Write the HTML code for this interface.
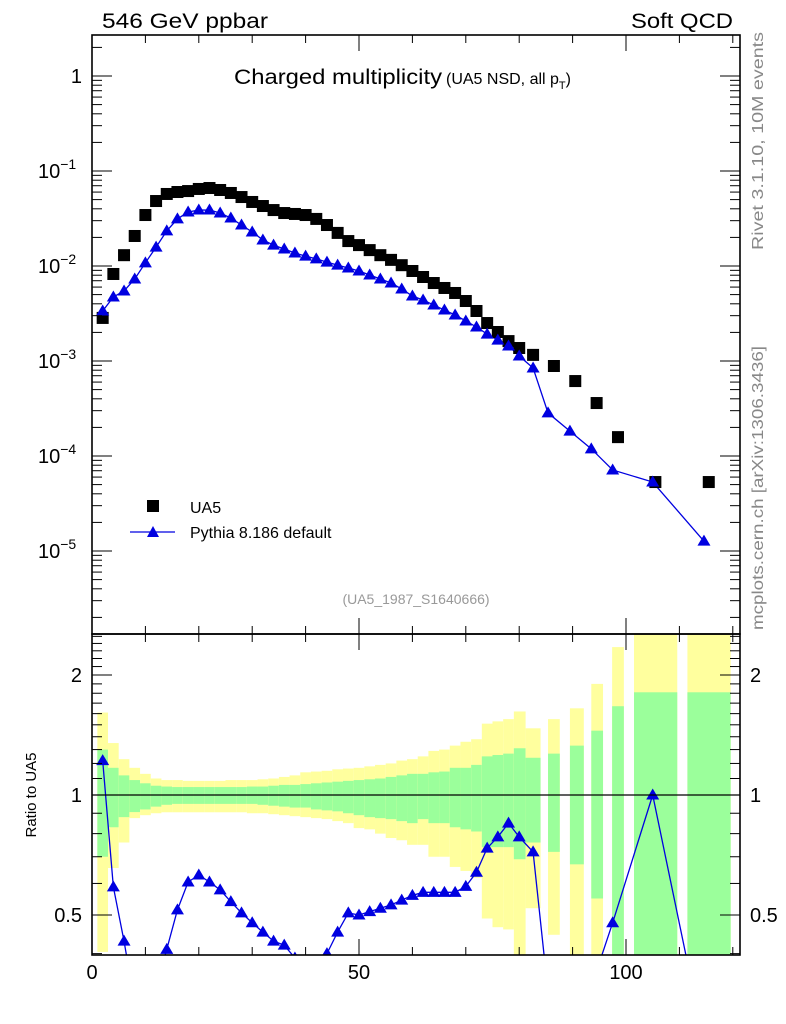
<!DOCTYPE html>
<html><head><meta charset="utf-8"><style>
body{margin:0;background:#fff;}
svg{display:block;font-family:"Liberation Sans",sans-serif;}
</style></head><body>
<svg id="chart" width="786" height="1024" viewBox="0 0 786 1024" xmlns="http://www.w3.org/2000/svg">
<text x="102" y="28" font-size="21" textLength="166" lengthAdjust="spacingAndGlyphs">546 GeV ppbar</text>
<text x="631" y="28" font-size="21" textLength="102" lengthAdjust="spacingAndGlyphs">Soft QCD</text>
<text x="234" y="84" font-size="21" textLength="208" lengthAdjust="spacingAndGlyphs">Charged multiplicity</text>
<text x="446" y="84" font-size="16">(UA5 NSD, all p<tspan font-size="11" dy="5">T</tspan><tspan dy="-5">)</tspan></text>
<text transform="translate(763,250) rotate(-90)" font-size="16" fill="#888" textLength="218" lengthAdjust="spacingAndGlyphs">Rivet 3.1.10,  10M events</text>
<text transform="translate(763,630) rotate(-90)" font-size="16" fill="#888" textLength="284" lengthAdjust="spacingAndGlyphs">mcplots.cern.ch [arXiv:1306.3436]</text>
<text x="416" y="604" font-size="14" fill="#999" text-anchor="middle">(UA5_1987_S1640666)</text>
<text transform="translate(36,795) rotate(-90)" font-size="15" text-anchor="middle">Ratio to UA5</text>
<g id="legend">
<rect x="147" y="500" width="12" height="12" fill="#000"/>
<text x="190" y="513" font-size="16">UA5</text>
<line x1="130" y1="532" x2="175" y2="532" stroke="#0000e0" stroke-width="1.3"/>
<polygon points="153,526 159,537 147,537" fill="#0000e0"/>
<text x="190" y="538" font-size="16">Pythia 8.186 default</text>
</g>
<g id="ratioBands"></g>
<g id="mainMarks"></g>
<g id="ratioMarks"></g>
<g id="axes"></g>
</svg>
<script>
const ua5N=[2,4,6,8,10,12,14,16,18,20,22,24,26,28,30,32,34,36,38,40,42,44,46,48,50,52,54,56,58,60,62,64,66,68,70,72,74,76,78,80,82.6,86.5,90.5,94.5,98.5,105.5,115.5];
const ua5Vals=[2.84e-3,8.24e-3,1.30e-2,2.07e-2,3.44e-2,4.83e-2,5.73e-2,6.01e-2,6.15e-2,6.47e-2,6.62e-2,6.31e-2,5.87e-2,5.32e-2,4.72e-2,4.28e-2,3.88e-2,3.61e-2,3.53e-2,3.44e-2,3.13e-2,2.70e-2,2.23e-2,1.83e-2,1.66e-2,1.47e-2,1.30e-2,1.16e-2,1.02e-2,8.86e-3,7.66e-3,6.62e-3,5.87e-3,5.20e-3,4.28e-3,3.36e-3,2.51e-3,2.02e-3,1.62e-3,1.37e-3,1.16e-3,8.86e-4,6.15e-4,3.61e-4,1.58e-4,5.32e-5,5.32e-5];
const pyN=[2,4,6,8,10,12,14,16,18,20,22,24,26,28,30,32,34,36,38,40,42,44,46,48,50,52,54,56,58,60,62,64,66,68,70,72,74,76,78,80,82.6,85.4,89.5,93.5,97.5,105,114.6];
const pyVals=[3.36e-3,4.72e-3,5.46e-3,7.30e-3,1.08e-2,1.58e-2,2.34e-2,3.13e-2,3.70e-2,3.88e-2,3.88e-2,3.61e-2,3.20e-2,2.70e-2,2.28e-2,1.88e-2,1.66e-2,1.51e-2,1.37e-2,1.27e-2,1.19e-2,1.10e-2,1.02e-2,9.53e-3,8.86e-3,8.04e-3,7.30e-3,6.62e-3,5.73e-3,4.83e-3,4.39e-3,3.88e-3,3.44e-3,3.05e-3,2.64e-3,2.28e-3,1.92e-3,1.66e-3,1.44e-3,1.13e-3,8.44e-4,2.84e-4,1.83e-4,1.19e-4,7.13e-5,5.32e-5,1.27e-5];
const ratioVals=[1.22,0.588,0.43,0.30,0.31,0.33,0.41,0.515,0.605,0.63,0.605,0.578,0.54,0.506,0.478,0.453,0.43,0.42,0.39,0.35,0.35,0.40,0.453,0.506,0.50,0.51,0.52,0.53,0.545,0.56,0.57,0.57,0.57,0.57,0.59,0.64,0.736,0.785,0.85,0.785,0.72,0.32,0.30,0.33,0.478,1.0,0.24];
const binLo=[1,3,5,7,9,11,13,15,17,19,21,23,25,27,29,31,33,35,37,39,41,43,45,47,49,51,53,55,57,59,61,63,65,67,69,71,73,75,77,79,81.2,85.4,89.5,93.5,97.4,101.5,111.5];
const binHi=[3,5,7,9,11,13,15,17,19,21,23,25,27,29,31,33,35,37,39,41,43,45,47,49,51,53,55,57,59,61,63,65,67,69,71,73,75,77,79,81.2,84,87.6,92.1,95.7,99.6,109.6,119.6];
const totUp=[1.61,1.35,1.23,1.17,1.13,1.10,1.09,1.09,1.085,1.085,1.085,1.085,1.09,1.09,1.09,1.095,1.10,1.11,1.12,1.14,1.145,1.15,1.16,1.165,1.17,1.18,1.19,1.20,1.22,1.23,1.25,1.29,1.30,1.33,1.36,1.38,1.51,1.53,1.55,1.62,1.47,1.55,1.65,1.90,2.35,3.0,3.0];
const totDn=[0.404,0.656,0.76,0.875,0.89,0.90,0.905,0.905,0.905,0.905,0.905,0.905,0.905,0.905,0.90,0.90,0.895,0.89,0.885,0.88,0.875,0.87,0.86,0.85,0.826,0.82,0.80,0.78,0.77,0.75,0.75,0.70,0.70,0.66,0.645,0.62,0.49,0.466,0.46,0.30,0.52,0.446,0.30,0.30,0.30,0.30,0.30];
const statUp=[1.30,1.17,1.12,1.09,1.07,1.055,1.05,1.047,1.047,1.047,1.047,1.047,1.047,1.047,1.05,1.05,1.055,1.06,1.06,1.065,1.07,1.075,1.08,1.085,1.09,1.095,1.10,1.11,1.12,1.13,1.13,1.14,1.145,1.17,1.17,1.19,1.25,1.26,1.27,1.31,1.24,1.27,1.33,1.45,1.67,1.81,1.81];
const statDn=[0.70,0.83,0.88,0.906,0.92,0.935,0.945,0.95,0.95,0.95,0.95,0.95,0.95,0.95,0.95,0.945,0.94,0.935,0.93,0.93,0.92,0.915,0.91,0.90,0.89,0.88,0.875,0.87,0.86,0.85,0.87,0.85,0.85,0.83,0.82,0.81,0.74,0.74,0.74,0.69,0.76,0.72,0.67,0.55,0.30,0.30,0.30];
const xTicks=[0,50,100];
const logTickExps=[0,-1,-2,-3,-4,-5];
const ratioTicks=[0.5,1,2];

const NS="http://www.w3.org/2000/svg";
const L=92,R=740,T=35,MID=634,B=955;
const X=n=>L+5.34*n;
const Y=v=>76-95*Math.log10(v);
const RY=r=>795-120*Math.log2(r);
const clampR=y=>Math.max(MID,Math.min(B,y));
function mk(tag,attrs,parent){const e=document.createElementNS(NS,tag);for(const k in attrs)e.setAttribute(k,attrs[k]);parent.appendChild(e);return e;}
const bands=document.getElementById('ratioBands');
for(let i=0;i<binLo.length;i++){
  const x1=X(binLo[i]),x2=X(binHi[i]);
  let a=clampR(RY(totUp[i])),b=clampR(RY(totDn[i]));
  const y1=mk('rect',{x:x1,y:a,width:x2-x1,height:b-a,fill:'#ffff9e'},bands);
  
  
  a=clampR(RY(statUp[i]));b=clampR(RY(statDn[i]));
  const g1=mk('rect',{x:x1,y:a,width:x2-x1,height:b-a,fill:'#9bff9b'},bands);
  
  
}
const ax=document.getElementById('axes');
const one=mk('line',{x1:L,x2:R,y1:RY(1),y2:RY(1),stroke:'#000','stroke-width':1.2},ax);


const mm=document.getElementById('mainMarks');
const tri=(x,y)=>`${x},${y-6.5} ${x+6.5},${y+4.5} ${x-6.5},${y+4.5}`;
const pl=mk('polyline',{points:pyN.map((n,i)=>X(n)+','+Y(pyVals[i])).join(' '),fill:'none',stroke:'#0000e0','stroke-width':1.3},mm);


ua5N.forEach((n,i)=>{const r=mk('rect',{x:X(n)-6,y:Y(ua5Vals[i])-6,width:12,height:12,fill:'#000'},mm);
  
  });
pyN.forEach((n,i)=>{const p=mk('polygon',{points:tri(X(n),Y(pyVals[i])),fill:'#0000e0'},mm);
  
  });
const rm=document.getElementById('ratioMarks');
const cp=mk('clipPath',{id:'rclip'},rm);mk('rect',{x:L,y:MID,width:R-L,height:B-MID},cp);
const rg=mk('g',{'clip-path':'url(#rclip)'},rm);
const rl=mk('polyline',{points:pyN.map((n,i)=>X(n)+','+RY(ratioVals[i])).join(' '),fill:'none',stroke:'#0000e0','stroke-width':1.3},rg);


pyN.forEach((n,i)=>{const p=mk('polygon',{points:tri(X(n),RY(ratioVals[i])),fill:'#0000e0'},rg);
  
  });
[[T,MID],[MID,B]].forEach(([a,b])=>{const f=mk('rect',{x:L,y:a,width:R-L,height:b-a,fill:'none',stroke:'#000','stroke-width':1.6},ax);
  
  });
for(let n=0;n<=120;n+=10){const big=xTicks.includes(n);const len=big?16:8;
  [[T,1],[MID,-1],[MID,1],[B,-1]].forEach(([y0,d])=>mk('line',{x1:X(n),x2:X(n),y1:y0,y2:y0+d*len,stroke:'#000'},ax));}
xTicks.forEach(n=>{const t=mk('text',{x:X(n),y:979,'font-size':20,'text-anchor':'middle'},ax);t.textContent=n;
  
  });
for(let e=1;e>=-6;e--){for(let m=1;m<10;m++){const y=Y(m*Math.pow(10,e));if(y<T||y>MID)continue;const len=m===1?20:10;
  mk('line',{x1:L,x2:L+len,y1:y,y2:y,stroke:'#000'},ax);mk('line',{x1:R,x2:R-len,y1:y,y2:y,stroke:'#000'},ax);}}
logTickExps.forEach(e=>{const t=mk('text',{x:82,y:Y(Math.pow(10,e))+7,'font-size':20,'text-anchor':'end'},ax);
  
  
  if(e===0)t.textContent='1';else{t.textContent='10';const s=mk('tspan',{dy:-9,'font-size':14},t);s.textContent=String(e).replace('-','\u2212');t.setAttribute('x',38);t.setAttribute('text-anchor','start');}});
for(let r=0.4;r<=2.5;r=Math.round((r+0.1)*10)/10){const y=RY(r);if(y<MID||y>B)continue;const big=ratioTicks.includes(r);const len=big?20:10;
  mk('line',{x1:L,x2:L+len,y1:y,y2:y,stroke:'#000'},ax);mk('line',{x1:R,x2:R-len,y1:y,y2:y,stroke:'#000'},ax);}
ratioTicks.forEach(r=>{[[82,'end'],[750,'start']].forEach(([x,a])=>{const t=mk('text',{x:x,y:RY(r)+7,'font-size':20,'text-anchor':a},ax);t.textContent=r;
  
  });});
</script>
</body></html>
